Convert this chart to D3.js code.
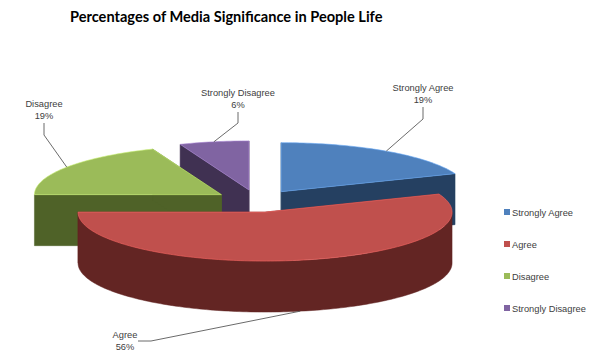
<!DOCTYPE html>
<html lang="en">
<head>
    <meta charset="UTF-8">
    <title>Percentages of Media Significance in People Life</title>
    <script src="https://cdnjs.cloudflare.com/ajax/libs/d3/7.8.5/d3.min.js"></script>
    <style>
        html, body { margin: 0; padding: 0; background: #fff; }
        text { font-family: "Liberation Sans", Arial, sans-serif; font-size: 9.3px; fill: #404040; }
        .title { font-family: Lato, "Open Sans", sans-serif; font-size: 14.6px; font-weight: 700; fill: #000; }
    </style>
</head>
<body>
    <div id="chart"></div>
    <script>
        // values
        const categories = ["Strongly Agree", "Agree", "Disagree", "Strongly Disagree"];
        const percents = [19, 56, 19, 6];
        const topColors = ["#4f81bd", "#c0504d", "#9bbb59", "#8064a2"];
        const wallColors = ["#254061", "#632523", "#4f6228", "#403152"];

        const width = 610, height = 360;
        const center = {x: 257, y: 201};
        const rx = 187, ry = 49, depth = 51;
        const explode = 0.23;

        // label centre and leader elbow for each slice, same order as categories
        const labelPlaces = [
            {x: 423, y: 91, elbow: [423, 119], end: [423, 107]},
            {x: 125, y: 338, elbow: [151, 341], end: [138, 341]},
            {x: 44, y: 107, elbow: [44, 135], end: [44, 123]},
            {x: 238, y: 96, elbow: [238, 123], end: [238, 112]}
        ];

        const svg = d3.select("#chart")
            .append("svg")
            .attr("width", width)
            .attr("height", height);

        svg.append("text")
            .attr("class", "title")
            .attr("x", 70)
            .attr("y", 22)
            .text("Percentages of Media Significance in People Life");

        // the pie lies flat, so a unit circle maps onto an ellipse
        const sx = d3.scaleLinear().domain([-1, 1]).range([center.x - rx, center.x + rx]);
        const sy = d3.scaleLinear().domain([-1, 1]).range([center.y - ry, center.y + ry]);

        const slices = d3.pie().sort(null)(percents).map((d, i) => {
            const mid = (d.startAngle + d.endAngle) / 2;
            return {
                ...d, i, mid,
                ox: explode * Math.sin(mid),
                oy: -explode * Math.cos(mid)
            };
        });

        // point on a slice at angle a and radius r, lowered by drop pixels
        const point = (s, a, r, drop = 0) => [
            sx(s.ox + r * Math.sin(a)),
            sy(s.oy - r * Math.cos(a)) + drop
        ];

        const line = d3.line();
        const arcAngles = (a0, a1) => {
            const n = Math.max(2, Math.ceil((a1 - a0) / 0.02));
            return d3.range(n + 1).map(k => a0 + (a1 - a0) * k / n);
        };

        const topOutline = s => [
            point(s, s.startAngle, 0),
            ...arcAngles(s.startAngle, s.endAngle).map(a => point(s, a, 1))
        ];

        const radialWall = (s, a) => [
            point(s, a, 0), point(s, a, 1), point(s, a, 1, depth), point(s, a, 0, depth)
        ];

        const outerWall = s => {
            const a0 = Math.max(s.startAngle, Math.PI / 2);
            const a1 = Math.min(s.endAngle, Math.PI * 1.5);
            if (a1 <= a0) return null;
            const angles = arcAngles(a0, a1);
            return [
                ...angles.map(a => point(s, a, 1)),
                ...angles.slice().reverse().map(a => point(s, a, 1, depth))
            ];
        };

        // back slices first so the front ones cover them
        const drawOrder = slices.slice().sort((a, b) => Math.cos(b.mid) - Math.cos(a.mid));

        drawOrder.forEach(s => {
            const g = svg.append("g");
            const walls = [radialWall(s, s.startAngle), radialWall(s, s.endAngle), outerWall(s)]
                .filter(w => w);
            g.selectAll("path.wall")
                .data(walls)
                .join("path")
                .attr("class", "wall")
                .attr("d", w => line(w) + "Z")
                .attr("fill", wallColors[s.i])
                .attr("stroke", wallColors[s.i])
                .attr("stroke-width", 0.5);
            g.append("path")
                .attr("d", line(topOutline(s)) + "Z")
                .attr("fill", topColors[s.i])
                .attr("stroke", d3.color(topColors[s.i]).brighter(0.7))
                .attr("stroke-width", 0.6);
        });

        // leader lines start on the rim at each slice's middle angle
        slices.forEach(s => {
            const place = labelPlaces[s.i];
            const front = Math.cos(s.mid) < 0;
            const start = point(s, s.mid, 1, front ? depth : 0);
            svg.append("path")
                .attr("d", line([start, place.elbow, place.end]))
                .attr("fill", "none")
                .attr("stroke", "#5a5a5a")
                .attr("stroke-width", 0.9);
            const label = svg.append("text").attr("text-anchor", "middle");
            label.append("tspan")
                .attr("x", place.x)
                .attr("y", place.y)
                .text(categories[s.i]);
            label.append("tspan")
                .attr("x", place.x)
                .attr("y", place.y + 12)
                .text(percents[s.i] + "%");
        });

        // legend
        const legendY = d3.scalePoint().domain(categories).range([212, 308]);
        const legend = svg.selectAll("g.legend")
            .data(categories)
            .join("g")
            .attr("class", "legend")
            .attr("transform", d => `translate(504,${legendY(d)})`);
        legend.append("rect")
            .attr("x", 0)
            .attr("y", -3)
            .attr("width", 6)
            .attr("height", 6)
            .attr("fill", (d, i) => topColors[i]);
        legend.append("text")
            .attr("x", 8)
            .attr("y", 3.5)
            .text(d => d);
    </script>
</body>
</html>
